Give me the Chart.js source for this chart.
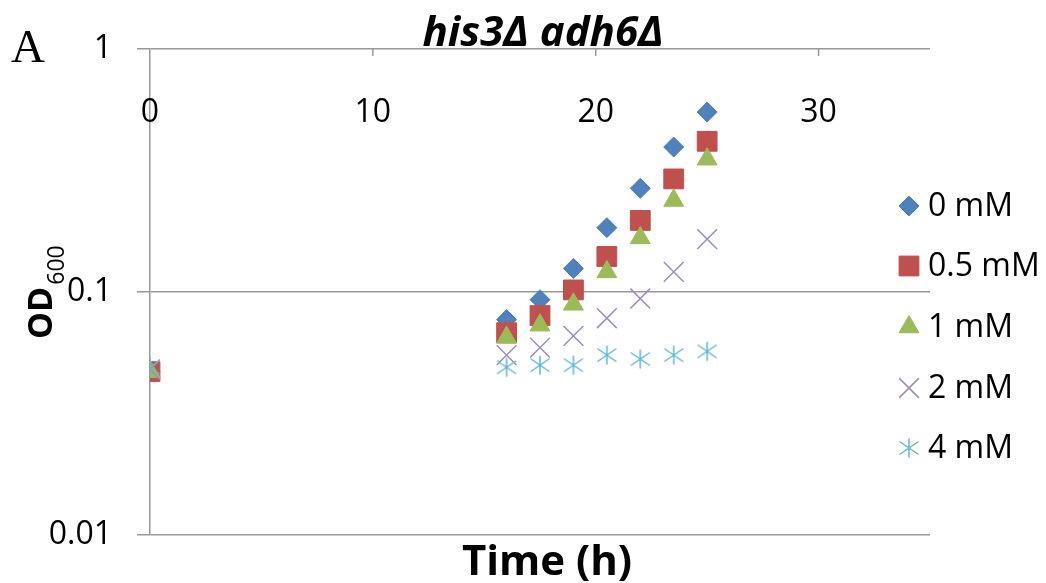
<!DOCTYPE html>
<html>
<head>
<meta charset="utf-8">
<script src="https://cdn.jsdelivr.net/npm/chart.js@4.4.1/dist/chart.umd.min.js"></script>
<style>
  html, body { margin: 0; padding: 0; background: #fff; }
  #wrap { width: 1046px; height: 583px; position: relative; }
  canvas { display: block; }
</style>
</head>
<body>
<div id="wrap"><canvas id="c" width="1046" height="583"></canvas></div>
<script>
// Growth of his3Δ adh6Δ at several inhibitor concentrations (OD600 vs time)
const times = [0, 16, 17.5, 19, 20.5, 22, 23.5, 25];
const seriesNames = ['0 mM', '0.5 mM', '1 mM', '2 mM', '4 mM'];
const od0mM  = [0.047, 0.077, 0.093, 0.125, 0.184, 0.267, 0.395, 0.550];
const od05mM = [0.047, 0.068, 0.080, 0.102, 0.140, 0.197, 0.292, 0.417];
const od1mM  = [0.047, 0.065, 0.073, 0.089, 0.121, 0.167, 0.238, 0.352];
const od2mM  = [0.048, 0.055, 0.059, 0.066, 0.078, 0.094, 0.121, 0.165];
const od4mM  = [0.049, 0.049, 0.050, 0.050, 0.055, 0.053, 0.055, 0.057];
const xTickValues = [0, 10, 20, 30];
const xTickLabels = ['0', '10', '20', '30'];
const yTickValues = [0.01, 0.1, 1];
const yTickLabels = ['0.01', '0.1', '1'];

const FONT = '"Open Sans", "Liberation Sans", sans-serif';
const AXIS_GRAY = '#9a9a9a';

// asterisk marker (vertical bar plus two diagonals)
function makeAsterisk(color) {
  const cv = document.createElement('canvas');
  cv.width = 22; cv.height = 22;
  const g = cv.getContext('2d');
  g.strokeStyle = color;
  g.lineWidth = 1.5;
  g.beginPath();
  g.moveTo(11, 1.5); g.lineTo(11, 20.5);
  g.moveTo(1.5, 4.5); g.lineTo(20.5, 17.5);
  g.moveTo(20.5, 4.5); g.lineTo(1.5, 17.5);
  g.stroke();
  return cv;
}

const styles = [
  { color: '#4F81BD', pointStyle: 'rectRot',  radius: 10,   borderWidth: 1 },
  { color: '#C0504D', pointStyle: 'rect',     radius: 14,   borderWidth: 1 },
  { color: '#9BBB59', pointStyle: 'triangle', radius: 11.5, borderWidth: 1 },
  { color: '#9D8CC1', pointStyle: 'crossRot', radius: 14,   borderWidth: 1.5 },
  { color: '#5FBAD2', pointStyle: makeAsterisk('#5FBAD2'), radius: 11, borderWidth: 1.5 }
];
const seriesValues = [od0mM, od05mM, od1mM, od2mM, od4mM];

const datasets = seriesValues.map((vals, i) => ({
  label: seriesNames[i],
  data: times.map((t, j) => ({ x: t, y: vals[j] })),
  pointStyle: styles[i].pointStyle,
  pointRadius: styles[i].radius,
  pointBackgroundColor: styles[i].color,
  pointBorderColor: styles[i].color,
  pointBorderWidth: styles[i].borderWidth,
  showLine: false,
  order: seriesValues.length - i
}));

function drawMarker(ctx, st, x, y) {
  ctx.save();
  ctx.fillStyle = st.color;
  ctx.strokeStyle = st.color;
  ctx.lineWidth = st.borderWidth;
  if (Chart.helpers && Chart.helpers.drawPoint) {
    Chart.helpers.drawPoint(ctx, { pointStyle: st.pointStyle, radius: st.radius, rotation: 0, borderWidth: st.borderWidth }, x, y);
  }
  ctx.restore();
}

const decor = {
  id: 'decor',
  afterDraw(chart) {
    const { ctx, chartArea: a, scales: { x } } = chart;
    ctx.save();

    // x tick marks (inward) and labels under the top axis line
    ctx.strokeStyle = AXIS_GRAY;
    ctx.lineWidth = 1.5;
    xTickValues.forEach((v, i) => {
      const px = x.getPixelForValue(v);
      if (v !== 0) {
        ctx.beginPath();
        ctx.moveTo(px, a.top);
        ctx.lineTo(px, a.top + 7);
        ctx.stroke();
      }
      ctx.fillStyle = '#000';
      ctx.font = '32px ' + FONT;
      ctx.textAlign = 'center';
      ctx.textBaseline = 'alphabetic';
      ctx.fillText(xTickLabels[i], px, 122);
    });

    // title
    ctx.fillStyle = '#000';
    ctx.font = 'italic bold 42px ' + FONT;
    ctx.textAlign = 'center';
    ctx.fillText('his3Δ adh6Δ', 543, 46);

    // panel letter
    ctx.font = '47px "Liberation Serif", "DejaVu Serif", serif';
    ctx.textAlign = 'left';
    ctx.fillText('A', 11, 62);

    // x axis title
    ctx.font = 'bold 42px ' + FONT;
    ctx.textAlign = 'center';
    ctx.fillText('Time (h)', 547, 575);

    // y axis title OD600 (rotated, with subscript)
    ctx.save();
    ctx.translate(52, 339);
    ctx.rotate(-Math.PI / 2);
    ctx.textAlign = 'left';
    ctx.font = 'bold 34px ' + FONT;
    ctx.fillText('OD', 0, 0);
    const w = ctx.measureText('OD').width;
    ctx.font = '23px ' + FONT;
    ctx.fillText('600', w + 2, 12);
    ctx.restore();

    // legend
    const rowY = [206, 266, 327, 388, 448];
    seriesNames.forEach((name, i) => {
      drawMarker(ctx, styles[i], 909, rowY[i]);
      ctx.fillStyle = '#000';
      ctx.font = '32px ' + FONT;
      ctx.textAlign = 'left';
      ctx.textBaseline = 'middle';
      ctx.fillText(name, 928, rowY[i] + 1);
    });

    ctx.restore();
  }
};

new Chart(document.getElementById('c'), {
  type: 'scatter',
  data: { datasets },
  options: {
    responsive: false,
    animation: false,
    devicePixelRatio: 1,
    layout: { padding: { left: 0, top: 49, right: 116, bottom: 48 } },
    plugins: { legend: { display: false }, tooltip: { enabled: false } },
    scales: {
      x: { type: 'linear', min: 0, max: 35, display: false },
      y: {
        type: 'logarithmic',
        min: 0.01,
        max: 1,
        afterBuildTicks: s => { s.ticks = yTickValues.map(v => ({ value: v })); },
        afterFit: s => { s.width = 150; },
        ticks: {
          callback: v => yTickLabels[yTickValues.indexOf(v)],
          font: { family: FONT, size: 32 },
          color: '#000',
          padding: 25
        },
        grid: { color: AXIS_GRAY, lineWidth: 1.5, tickLength: 13, drawTicks: true },
        border: { color: AXIS_GRAY, width: 1.5 }
      }
    }
  },
  plugins: [decor]
});
</script>
</body>
</html>
